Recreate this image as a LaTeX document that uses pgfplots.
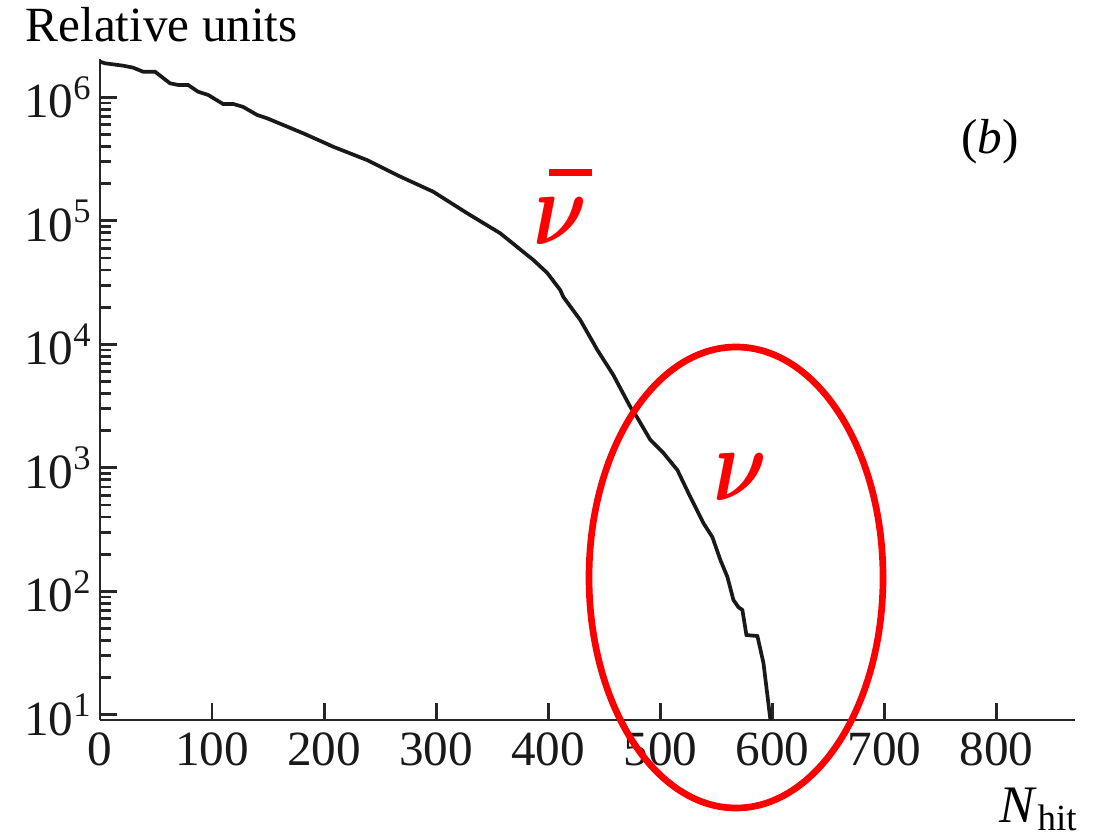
\documentclass[border=0pt]{standalone}
\usepackage{amsmath}
\usepackage{bm}
\usepackage{graphicx}
\usepackage{fontspec}
\setmainfont{Liberation Serif}
\usepackage{pgfplots}
\pgfplotsset{compat=1.18}

% N_hit distribution, log scale
\pgfplotstableread{
x      y
0      1.941e6
4.5    1.884e6
20.5   1.803e6
29.5   1.738e6
38.4   1.611e6
49.1   1.611e6
62.5   1.297e6
69.6   1.259e6
78.6   1.259e6
87.5   1.109e6
96.4   1.045e6
109.8  8.83e5
118.8  8.83e5
127.7  8.36e5
140.2  7.19e5
149.1  6.76e5
163.4  5.97e5
181.3  5.11e5
199.1  4.33e5
208    3.98e5
238.4  3.10e5
267.9  2.28e5
297.3  1.72e5
327.7  1.15e5
357.1  7.93e4
386.6  4.82e4
399.1  3.78e4
410.7  2.75e4
413.4  2.42e4
428.6  1.57e4
443.8  8.99e3
458.0  5.65e3
473.2  3.11e3
479.5  2.54e3
491.1  1.68e3
502.7  1.32e3
515.2  959
526.8  579
529.5  519
538.4  357
546.4  275
553.6  179
559.8  131
565.2  85.1
569.6  74.6
573.2  70.6
576.8  44.3
586.6  43.4
592.0  26.3
598.2  9.1
}\nhit

\newcommand{\nusym}{\scalebox{0.95}[1.2]{\fontsize{34}{34}\selectfont$\bm{\nu}$}}

\begin{document}
\begin{tikzpicture}[font=\fontsize{14}{16}\selectfont]
\useasboundingbox (-1cm,-1.17cm) rectangle (10.04cm,7.20cm);
\begin{axis}[
    at={(0,0)}, anchor=south west,
    scale only axis,
    width=9.75cm, height=6.607cm,
    xmin=0, xmax=870,
    ymode=log, ymin=9.08, ymax=2.03e6,
    axis x line*=bottom, axis y line*=left,
    axis line style={line width=0.8pt, black!85},
    tick style={line width=0.8pt, black!85},
    tick align=inside,
    major tick length=0.17cm,
    minor tick length=0.11cm,
    xtick={0,100,...,800},
    ytick={10,100,1000,10000,100000,1000000},
    yticklabels={10\textsuperscript{1},10\textsuperscript{2},10\textsuperscript{3},10\textsuperscript{4},10\textsuperscript{5},10\textsuperscript{6}},
    /pgf/number format/assume math mode=true,
    yticklabel style={inner sep=2pt},
    ticklabel style={text=black!90},
]
\addplot[line width=1.05pt, black!90] table[x=x, y=y] {\nhit};
\end{axis}

% red annotations
\draw[red, line width=1.9pt] (6.36cm,1.425cm) ellipse [x radius=1.47cm, y radius=2.305cm];
\node[red, anchor=base, inner sep=0] at (4.60cm,4.75cm) {\nusym};
\draw[red, line width=2pt] (4.49cm,5.475cm) -- (4.92cm,5.475cm);
\node[red, anchor=base, inner sep=0] at (6.40cm,2.20cm) {\nusym};

\node[anchor=base west, inner sep=0] at (-0.75cm,6.78cm) {Relative units};
\node[anchor=base east, inner sep=0] at (9.79cm,-1.02cm) {\fontsize{15}{18}\selectfont\textit{N}\textsubscript{hit}};
\node[inner sep=0] at (8.90cm,5.78cm) {(\textit{b})};
\end{tikzpicture}
\end{document}
